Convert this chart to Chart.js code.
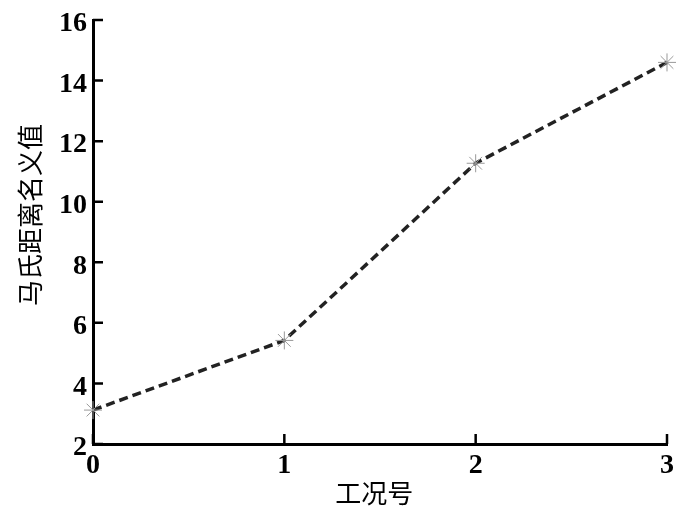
<!DOCTYPE html>
<html>
<head>
<meta charset="utf-8">
<script src="https://cdn.jsdelivr.net/npm/chart.js@4/dist/chart.umd.min.js"></script>
<style>
html,body{margin:0;padding:0;background:#fff;}
#wrap{width:700px;height:513px;position:relative;}
</style>
</head>
<body>
<div id="wrap"><canvas id="c" width="700" height="513"></canvas></div>
<script>
const conditions = [0, 1, 2, 3];
const mahalanobisValues = [3.12, 5.42, 11.27, 14.6];
const xTickValues = [0, 1, 2, 3];
const yTickValues = [2, 4, 6, 8, 10, 12, 14, 16];
const xTitle = '工况号';
const yTitle = '马氏距离名义值';

const points = conditions.map((x, i) => ({x: x, y: mahalanobisValues[i]}));

const titleFontCss = '26px "Noto Sans CJK SC", sans-serif';

const innerTicks = {
  id: 'innerTicks',
  afterDraw(chart) {
    const ctx = chart.ctx;
    const xs = chart.scales.x, ys = chart.scales.y;
    const area = chart.chartArea;
    ctx.save();
    ctx.strokeStyle = '#000';
    ctx.lineWidth = 2.5;
    ctx.beginPath();
    xTickValues.forEach(v => {
      const px = xs.getPixelForValue(v);
      ctx.moveTo(px, area.bottom);
      ctx.lineTo(px, area.bottom - 10);
    });
    yTickValues.forEach(v => {
      const py = ys.getPixelForValue(v);
      ctx.moveTo(area.left, py);
      ctx.lineTo(area.left + 10, py);
    });
    ctx.stroke();
    // axis titles
    ctx.fillStyle = '#000';
    ctx.font = titleFontCss;
    ctx.textAlign = 'center';
    ctx.textBaseline = 'middle';
    ctx.fillText(xTitle, area.left + (area.right - area.left) * 0.49, 493);
    ctx.translate(30, area.top + (area.bottom - area.top) * 0.46);
    ctx.rotate(-Math.PI / 2);
    ctx.fillText(yTitle, 0, 0);
    ctx.restore();
  }
};

const tickFont = {family: '"Liberation Serif", "Times New Roman", serif', size: 28, weight: 'bold', lineHeight: 1};

new Chart(document.getElementById('c'), {
  type: 'line',
  data: {
    datasets: [{
      data: points,
      borderColor: '#222',
      borderWidth: 3.5,
      borderDash: [9, 5],
      pointStyle: 'star',
      pointRadius: 9,
      pointBorderColor: '#999',
      pointBackgroundColor: '#999',
      pointBorderWidth: 1,
      tension: 0,
      fill: false,
      clip: false
    }]
  },
  options: {
    responsive: false,
    animation: false,
    devicePixelRatio: 1,
    layout: {padding: {top: 20, right: 33, left: 0, bottom: 0}},
    plugins: {legend: {display: false}, tooltip: {enabled: false}},
    scales: {
      x: {
        type: 'linear',
        min: 0, max: 3,
        afterFit(s) { s.height = 69; },
        afterBuildTicks(s) { s.ticks = xTickValues.map(v => ({value: v})); },
        grid: {display: true, drawOnChartArea: false, drawTicks: false},
        border: {display: true, color: '#000', width: 3},
        ticks: {font: tickFont, color: '#000', padding: 8, maxRotation: 0},
        title: {display: false}
      },
      y: {
        type: 'linear',
        min: 2, max: 16,
        afterFit(s) { s.width = 93; },
        afterBuildTicks(s) { s.ticks = yTickValues.map(v => ({value: v})); },
        grid: {display: true, drawOnChartArea: false, drawTicks: false},
        border: {display: true, color: '#000', width: 3},
        ticks: {font: tickFont, color: '#000', padding: 6, labelOffset: 4},
        title: {display: false}
      }
    }
  },
  plugins: [innerTicks]
});
</script>
</body>
</html>
